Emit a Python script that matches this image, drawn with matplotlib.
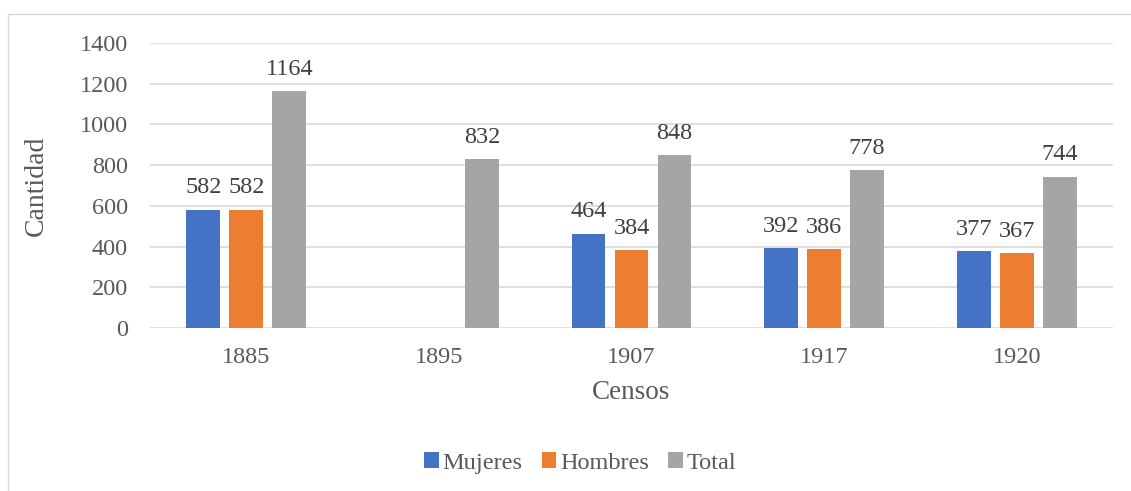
import matplotlib.pyplot as plt
import numpy as np
from matplotlib.patches import Rectangle

# Datos
censos = ['1885', '1895', '1907', '1917', '1920']
mujeres = [582, np.nan, 464, 392, 377]
hombres = [582, np.nan, 384, 386, 367]
total = [1164, 832, 848, 778, 744]

series = [('Mujeres', mujeres, '#4472C4'),
          ('Hombres', hombres, '#ED7D31'),
          ('Total', total, '#A5A5A5')]

plt.rcParams['font.family'] = ['Liberation Serif', 'DejaVu Serif']
txt = '#595959'

fig = plt.figure(figsize=(11.31, 4.91), dpi=100)
ax = fig.add_axes([150 / 1131, 1 - 328 / 491, 963 / 1131, 285 / 491])

# marco del gráfico
fig.patches.append(Rectangle((8 / 1131, -0.1), 1.2, 1 - 14 / 491 + 0.1,
                             transform=fig.transFigure, fill=False,
                             edgecolor='#D9D9D9', linewidth=1))

x = np.arange(len(censos))
step = 0.223
width = 0.176
for i, (name, vals, color) in enumerate(series):
    pos = x + (i - 1) * step
    vals = np.array(vals, dtype=float)
    ax.bar(pos, np.nan_to_num(vals), width, color=color, label=name, zorder=3)
    for p, v in zip(pos, vals):
        if not np.isnan(v):
            ax.annotate(f'{int(v)}', (p, v), xytext=(0, 8),
                        textcoords='offset points', ha='center', va='bottom',
                        fontsize=17.5, color='#404040')

ax.set_xlim(-0.5, len(censos) - 0.5)
ax.set_ylim(0, 1400)
ax.set_yticks(range(0, 1401, 200))
ax.set_xticks(x)
ax.set_xticklabels(censos)
ax.grid(axis='y', color='#D9D9D9', linewidth=1.2, zorder=0)
ax.tick_params(length=0, labelsize=17.5, colors=txt)
ax.tick_params(axis='x', pad=14)
ax.tick_params(axis='y', pad=16)
for s in ax.spines.values():
    s.set_visible(False)

ax.set_xlabel('Censos', fontsize=19.5, color=txt, labelpad=8)
ax.set_ylabel('Cantidad', fontsize=20, color=txt, labelpad=22)

fig.legend(loc='center', bbox_to_anchor=(580 / 1131, 1 - 463 / 491), ncol=3,
           frameon=False, fontsize=17.5, handlelength=0.6, handleheight=0.6,
           handletextpad=0.15, columnspacing=0.8, labelcolor=txt)

fig.savefig('out.png', dpi=100)
